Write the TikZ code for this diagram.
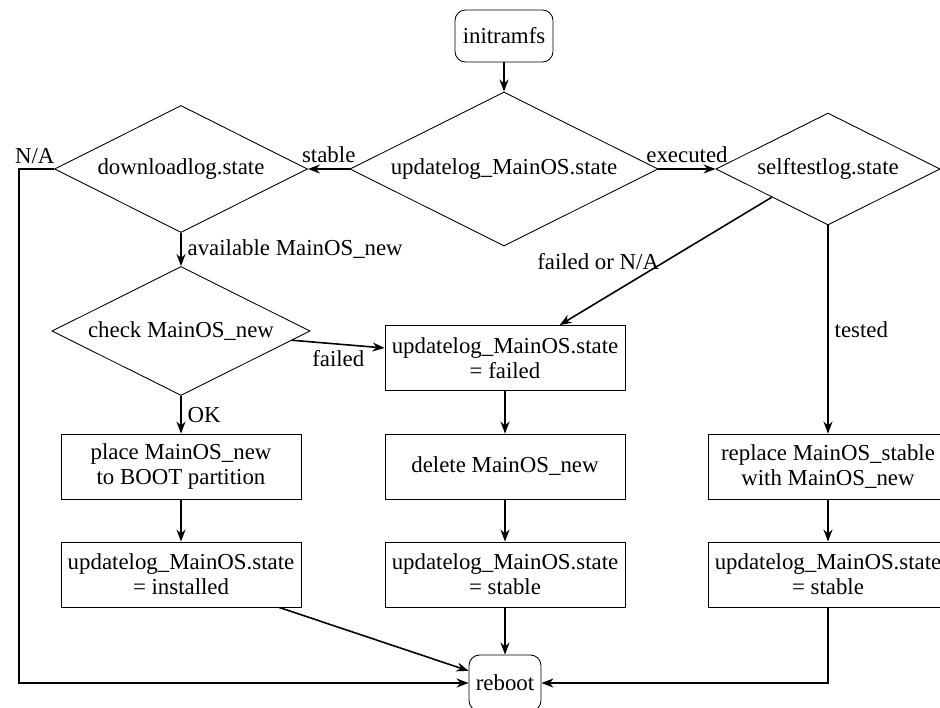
\documentclass[tikz,border=0pt]{standalone}
\usepackage{fontspec}
\setmainfont{Liberation Serif}
\usetikzlibrary{arrows.meta,positioning,shapes.geometric}

\begin{document}
\begin{tikzpicture}[every node/.style={font=\fontsize{13}{14.2}\selectfont},
  bx/.style={draw, line width=0.5pt, minimum width=4.8cm, minimum height=1.3cm, align=center, inner sep=2pt},
  dm/.style={diamond, draw, line width=0.5pt, aspect=2, inner sep=0pt, align=center},
  rbx/.style={draw, rounded corners=6pt, line width=0.5pt, minimum width=1.96cm, minimum height=1.04cm},
  arr/.style={-{Stealth[length=2.4mm,width=1.8mm]}, line width=0.9pt}]
\useasboundingbox (0,0) rectangle (18.8,-14.14);
% Start
\node[rbx] (initramfs) at (10.08,-0.72) {initramfs};
% Decisions
\node[dm, minimum width=6.16cm, minimum height=3.08cm] (update) at (10.08,-3.38) {updatelog\_MainOS.state};
\node[dm, minimum width=5.06cm, minimum height=2.54cm] (download) at (3.62,-3.38) {downloadlog.state};
\node[dm, minimum width=4.48cm, minimum height=2.24cm] (selftest) at (16.56,-3.38) {selftestlog.state};
\node[dm, minimum width=5.16cm, minimum height=2.58cm] (check) at (3.62,-6.62) {check MainOS\_new};
% Boxes
\node[bx] (failed) at (10.1,-7.16) {updatelog\_MainOS.state\\= failed};
\node[bx] (place) at (3.62,-9.33) {place MainOS\_new\\to BOOT partition};
\node[bx] (delete) at (10.1,-9.33) {delete MainOS\_new};
\node[bx] (replace) at (16.56,-9.33) {replace MainOS\_stable\\with MainOS\_new};
\node[bx] (installed) at (3.62,-11.49) {updatelog\_MainOS.state\\= installed};
\node[bx] (stablemid) at (10.1,-11.49) {updatelog\_MainOS.state\\= stable};
\node[bx] (stableright) at (16.56,-11.49) {updatelog\_MainOS.state\\= stable};
% End
\node[rbx, minimum width=1.44cm, minimum height=1.12cm] (reboot) at (10.1,-13.66) {reboot};
% Arrows
\draw[arr] (initramfs) -- (update);
\draw[arr] (update.west) -- node[above] {stable} (download.east);
\draw[arr] (update.east) -- node[above] {executed} (selftest.west);
\draw[arr] (download.south) -- node[right] {available MainOS\_new} (check.north);
\draw[arr] (download.west) -- node[pos=0, above left=-1pt and -4pt] {N/A} ++(-0.7,0) |- (reboot.west);
\draw[arr] (selftest.south west) -- node[left, pos=0.5] {failed or N/A} (failed);
\draw[arr] (selftest.south) -- node[right] {tested} (replace.north);
\draw[arr] (check) -- node[below] {failed} (failed);
\draw[arr] (check.south) -- node[right] {OK} (place.north);
\draw[arr] (failed) -- (delete);
\draw[arr] (place) -- (installed);
\draw[arr] (delete) -- (stablemid);
\draw[arr] (replace) -- (stableright);
\draw[arr] (installed) -- (reboot);
\draw[arr] (stablemid) -- (reboot);
\draw[arr] (stableright.south) |- (reboot.east);
\end{tikzpicture}
\end{document}
